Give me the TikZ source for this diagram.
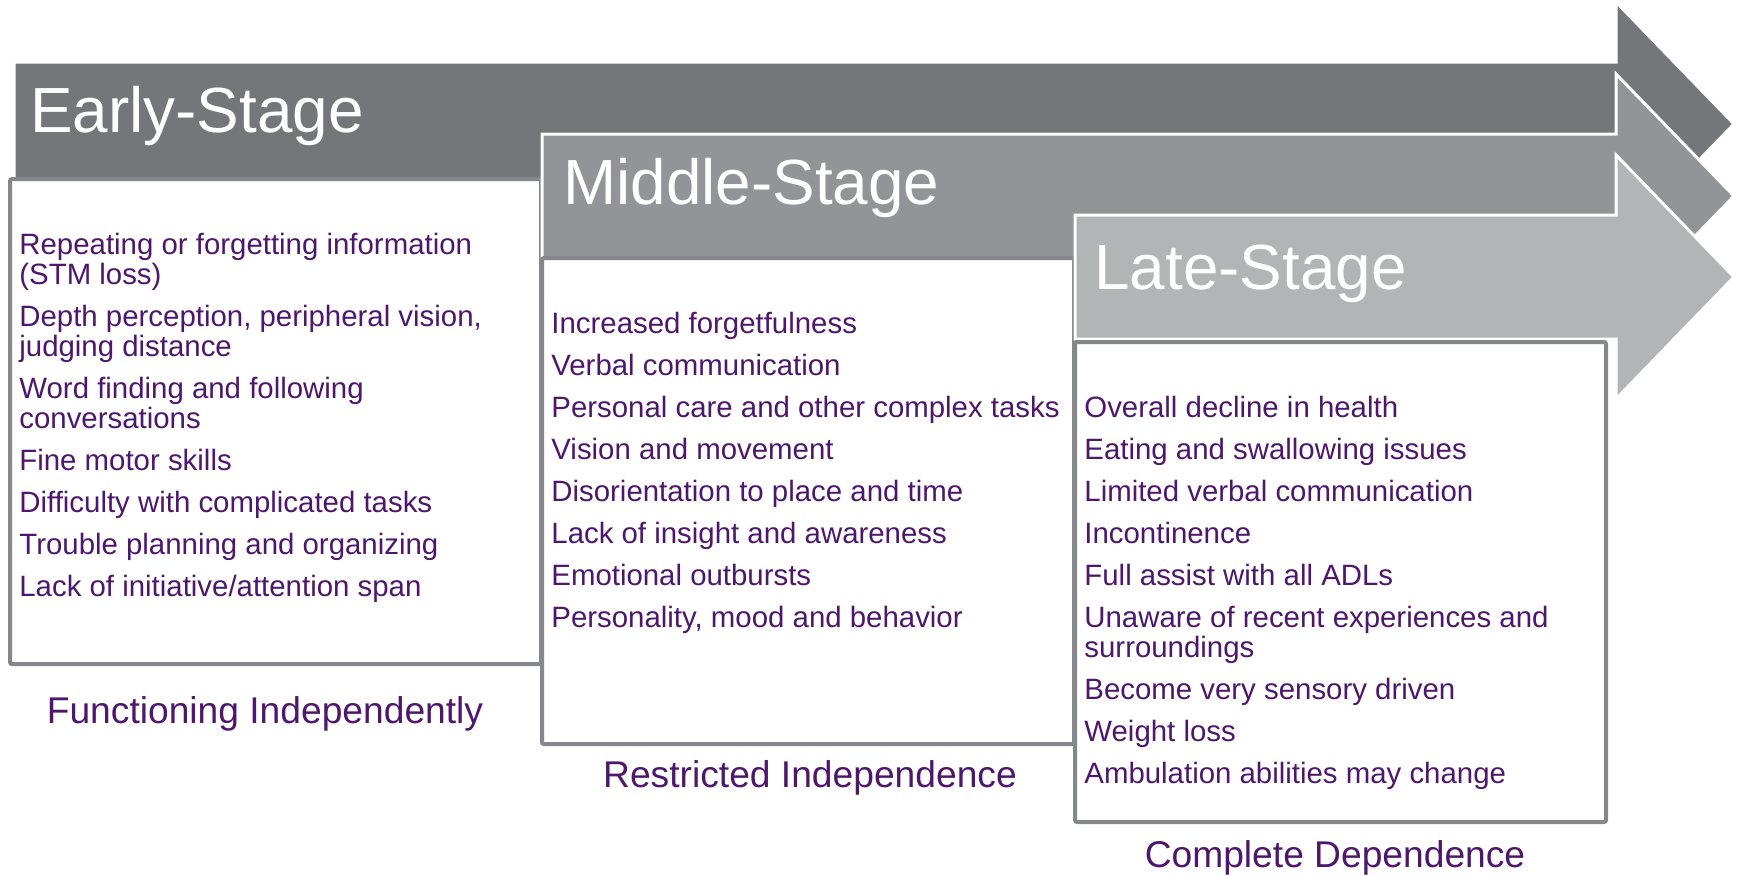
\documentclass[tikz,border=0pt]{standalone}
\usepackage{fontspec}
\setmainfont{Liberation Sans}
\usepackage{xcolor}
\usepackage{tikz}
\definecolor{darkarrow}{HTML}{75767A}
\definecolor{midarrow}{HTML}{939497}
\definecolor{lightarrow}{HTML}{B3B4B6}
\definecolor{frame}{HTML}{86878A}
\definecolor{plum}{HTML}{4D176B}
\tikzset{
  stagearrow/.style={draw=white, line width=1.5pt, line join=miter},
  stagebox/.style={draw=frame, fill=white, line width=2pt, rounded corners=1pt},
  headlab/.style={text=white, font=\fontsize{31.9}{36}\selectfont, anchor=base west, inner sep=0pt},
  items/.style={text=plum, font=\fontsize{14.7}{15}\selectfont, align=left, anchor=north west, inner sep=0pt},
  caption/.style={text=plum, font=\fontsize{18.6}{22}\selectfont, anchor=base, inner sep=0pt}
}

\begin{document}
\begin{tikzpicture}[x=0.5pt, y=-0.5pt]
  \useasboundingbox (0,0) rectangle (1739,875);

  % one arrow and one box per stage, back to front
  \foreach \col/\lx/\cy/\bxa/\bya/\bxb/\byb in {%
      darkarrow/14/124/10/179/541/664,
      midarrow/542/196/542/258/1074/744,
      lightarrow/1075/277/1075/342/1606/822}{
    \filldraw[stagearrow, fill=\col] (\lx,\cy-62) -- (1616,\cy-62) -- (1616,\cy-122)
      -- (1734,\cy) -- (1616,\cy+122) -- (1616,\cy+62) -- (\lx,\cy+62) -- cycle;
    \draw[stagebox] (\bxa,\bya) rectangle (\bxb,\byb);
  }

  \node[headlab] (earlyhead) at (30,132) {Early-Stage};
  \node[headlab] (midhead) at (563,204) {Middle-Stage};
  \node[headlab] (latehead) at (1094,289) {Late-Stage};

  \node[items] (earlylist) at (19,233) {Repeating or forgetting information\\(STM loss)\\[6pt]
    Depth perception, peripheral vision,\\judging distance\\[6pt]
    Word finding and following\\conversations\\[6pt]
    Fine motor skills\\[6pt]
    Difficulty with complicated tasks\\[6pt]
    Trouble planning and organizing\\[6pt]
    Lack of initiative/attention span};

  \node[items] (midlist) at (551,312) {Increased forgetfulness\\[6pt]
    Verbal communication\\[6pt]
    Personal care and other complex tasks\\[6pt]
    Vision and movement\\[6pt]
    Disorientation to place and time\\[6pt]
    Lack of insight and awareness\\[6pt]
    Emotional outbursts\\[6pt]
    Personality, mood and behavior};

  \node[items] (latelist) at (1084,396) {Overall decline in health\\[6pt]
    Eating and swallowing issues\\[6pt]
    Limited verbal communication\\[6pt]
    Incontinence\\[6pt]
    Full assist with all ADLs\\[6pt]
    Unaware of recent experiences and\\surroundings\\[6pt]
    Become very sensory driven\\[6pt]
    Weight loss\\[6pt]
    Ambulation abilities may change};

  \node[caption] (earlycap) at (265,723) {Functioning Independently};
  \node[caption] (midcap) at (810,787) {Restricted Independence};
  \node[caption] (latecap) at (1335,867) {Complete Dependence};
\end{tikzpicture}
\end{document}
